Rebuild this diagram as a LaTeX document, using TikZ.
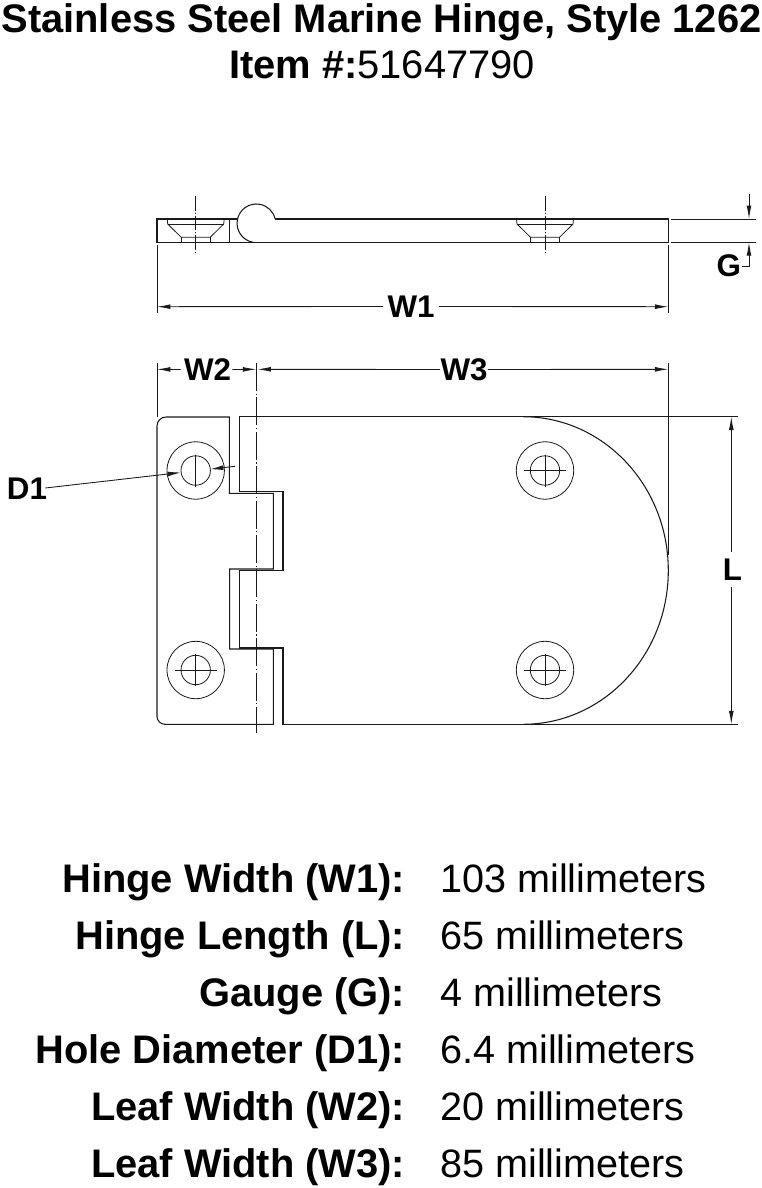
\documentclass[tikz,border=0pt]{standalone}
\usepackage{fontspec}
\setmainfont{Liberation Sans}
\usetikzlibrary{arrows.meta}
\definecolor{ink}{HTML}{1A1A1A}
\tikzset{
  outline/.style={draw=ink,line width=0.8pt},
  thinline/.style={draw=ink,line width=0.6pt},
  dim/.style={draw=ink,line width=0.65pt},
  tip/.style={-{Latex[length=10pt,width=3.6pt]}},
  axis/.style={draw=ink,line width=0.6pt,dash pattern=on 21pt off 2pt on 0.8pt off 2pt},
  axissmall/.style={draw=ink,line width=0.6pt,dash pattern=on 11pt off 1.5pt on 0.8pt off 1.5pt},
  dimlabel/.style={inner sep=0pt,font=\fontsize{23.5}{25}\selectfont\bfseries,text=black},
  titletext/.style={inner sep=0pt,anchor=base,font=\fontsize{29.9}{32}\selectfont,text=black},
  key/.style={inner sep=0pt,anchor=base east,font=\fontsize{29.9}{32}\selectfont\bfseries,text=black},
  val/.style={inner sep=0pt,anchor=base west,font=\fontsize{29.7}{32}\selectfont,text=black},
}
\newcommand{\holeplan}[2]{%
  \draw[thinline] (#1,#2) circle[radius=28.7];
  \draw[thinline] (#1,#2) circle[radius=14.7];
  \draw[thinline] (#1,#2-16) -- (#1,#2+16);
}
\begin{document}
\begin{tikzpicture}[x=0.75pt,y=-0.75pt]
\useasboundingbox (0,0) rectangle (762,1188);

% Title
\node[titletext] (title) at (381.5,33) {\bfseries Stainless Steel Marine Hinge, Style 1262};
\node[titletext] (item) at (382,78.5) {\bfseries Item \#:\mdseries 51647790};

% Side view
\draw[outline] (237.5,219) -- (157,219) -- (157,242.3) -- (668.3,242.3) -- (668.3,219) -- (275,219);
\draw[outline] (253,242.3) arc[start angle=100,end angle=347,radius=19.3];
\draw[outline] (229.7,219) -- (229.7,242.3);
\foreach \c in {195.7,545}{
  \draw[thinline] (\c-28.5,219) -- (\c-28,224) -- (\c-14.5,237.3) -- (\c+14.5,237.3) -- (\c+28,224) -- (\c+28.5,219);
  \draw[thinline] (\c-28,224) -- (\c+28,224);
  \draw[thinline] (\c-14.5,237.3) -- (\c-14.5,242.3) (\c+14.5,237.3) -- (\c+14.5,242.3);
  \draw[axissmall] (\c,196) -- (\c,252.7);
}

% Side view dimensions
\node[dimlabel] (w1) at (411,306.5) {W1};
\coordinate (w1l) at (157,306.7);
\coordinate (w1r) at (668.3,306.7);
\draw[dim] (157,245) -- (157,312.7);
\draw[dim] (668.3,245) -- (668.3,312.7);
\draw[dim,tip] (w1.west) ++(-4,0) -- (w1l);
\draw[dim,tip] (w1.east) ++(4,0) -- (w1r);
\draw[dim] (671,219) -- (755.7,219);
\draw[dim] (671,242.3) -- (755.7,242.3);
\node[dimlabel] (g) at (728.7,266) {G};
\coordinate (gt) at (749,219);
\coordinate (gb) at (749,242.3);
\draw[dim,tip] (749,194.3) -- (gt);
\draw[dim,tip] (g.east) ++(1,0.7) -| (gb);

% Plan view
\draw[outline] (157,426) arc[start angle=180,end angle=270,radius=9] -- (229.3,417) -- (229.3,493.3) -- (273.3,493.3) -- (273.3,569) -- (229.7,569) -- (229.7,649) -- (273.3,649) -- (273.3,724.3) -- (165,724.3) arc[start angle=90,end angle=180,radius=8] -- cycle;
\draw[outline] (738.3,416.7) -- (239.3,416.7) -- (239.3,491.7) -- (283,491.7) -- (283,570.3) -- (239.5,570.3) -- (239.5,648) -- (283,648) -- (283,724.3) -- (738.3,724.3);
\draw[outline] (523,416.7) arc[start angle=-90,end angle=90,x radius=145.3,y radius=153.8];
\draw[outline] (668.3,363) -- (668.3,555);
\draw[axis] (256.3,363) -- (256.3,733);
\draw[dim] (157,363.3) -- (157,417);

\holeplan{195.7}{470.5}
\holeplan{545}{470.5}
\holeplan{195.7}{670}
\holeplan{545}{670}
\draw[thinline] (175,670) -- (216.7,670);
\draw[thinline] (524.3,670) -- (566,670);
\draw[thinline] (524.3,470.5) -- (566,470.5);

% Plan dimensions
\node[dimlabel] (w2) at (207.5,369.5) {W2};
\node[dimlabel] (w3) at (464,369.5) {W3};
\coordinate (w2l) at (157,369.3);
\coordinate (w2r) at (256.3,369.3);
\coordinate (w3l) at (257.5,369.3);
\coordinate (w3r) at (668.3,369.3);
\draw[dim,tip] (w2.west) ++(-3,0) -- (w2l);
\draw[dim,tip] (w2.east) ++(1,0) -- (w2r);
\draw[dim,tip] (w3.west) ++(0,0) -- (w3l);
\draw[dim,tip] (w3.east) ++(0,0) -- (w3r);

\node[dimlabel] (l) at (732.5,570) {L};
\coordinate (lt) at (731.3,416.7);
\coordinate (lb) at (731.3,724.3);
\draw[dim,tip] (731.3,551.7) -- (lt);
\draw[dim,tip] (731.3,587.3) -- (lb);

\node[dimlabel] (d1) at (27,489) {D1};
\coordinate (d1a) at (181,472.5);
\coordinate (d1b) at (210,469.2);
\coordinate (d1e) at (235,466.3);
\draw[dim,tip] (d1.east) ++(-2,-1) -- (d1a);
\draw[dim,tip] (d1e) -- (d1b);

% Table
\node[key] (k1) at (405.5,892) {Hinge Width (W1):};
\node[val] (v1) at (440,892) {103 millimeters};
\node[key] (k2) at (405.5,949) {Hinge Length (L):};
\node[val] (v2) at (440,949) {65 millimeters};
\node[key] (k3) at (405.5,1006) {Gauge (G):};
\node[val] (v3) at (440,1006) {4 millimeters};
\node[key] (k4) at (405.5,1063) {Hole Diameter (D1):};
\node[val] (v4) at (440,1063) {6.4 millimeters};
\node[key] (k5) at (405.5,1120) {Leaf Width (W2):};
\node[val] (v5) at (440,1120) {20 millimeters};
\node[key] (k6) at (405.5,1177) {Leaf Width (W3):};
\node[val] (v6) at (440,1177) {85 millimeters};
\end{tikzpicture}
\end{document}
